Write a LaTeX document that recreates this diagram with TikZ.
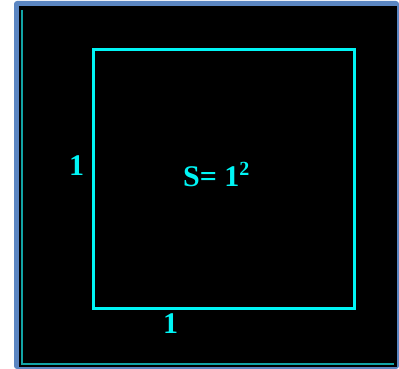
\documentclass[tikz,border=0pt]{standalone}
\usepackage{fontspec}
\setmainfont{Liberation Serif}
\definecolor{framebl}{HTML}{5B86C2}
\definecolor{tealln}{HTML}{12A4A6}
\definecolor{cyanln}{HTML}{00F5F5}
\tikzset{
  lbl/.style={text=cyanln, font=\fontsize{30}{30}\selectfont\bfseries, inner sep=0pt},
  sq/.style={draw=cyanln, line width=3pt}
}
\begin{document}
\begin{tikzpicture}[x=1pt,y=-1pt]
\useasboundingbox (0,0) rectangle (399,369);
\fill[white] (0,0) rectangle (399,369);
\fill[framebl, rounded corners=3pt] (14,1) rectangle (399,369);
\fill[black] (19,6) rectangle (397,367);
\coordinate (tl) at (21.5,10);
\coordinate (bl) at (21.5,364);
\coordinate (br) at (394,364);
\draw[tealln, line width=2pt] (tl) -- (bl) -- (br);
\node[sq, minimum width=261pt, minimum height=258pt, inner sep=0pt] (square) at (223.5,179) {};
\node[lbl] (lside) at (76.5,165.5) {1};
\node[lbl] (bside) at (170.5,324) {1};
\node[lbl, anchor=base west] (area) at (183,186.5) {S= 1\raisebox{11pt}{\fontsize{20}{20}\selectfont 2}};
\end{tikzpicture}
\end{document}
